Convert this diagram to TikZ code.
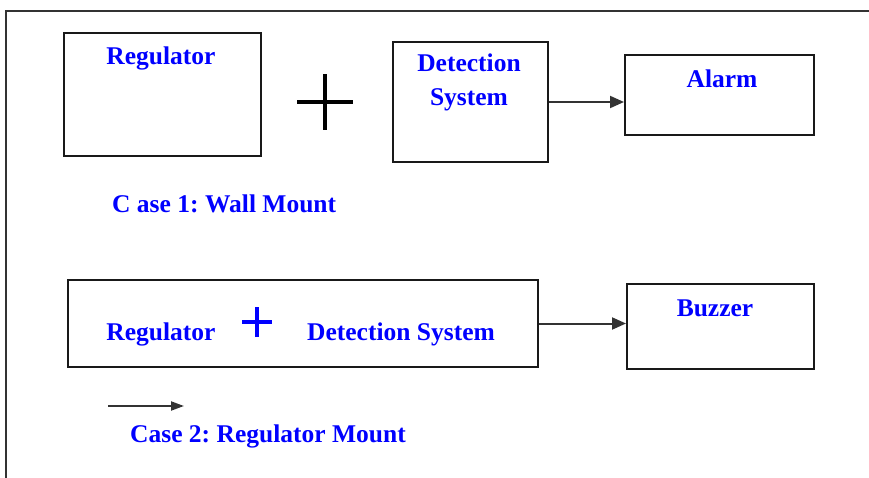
\documentclass[tikz,border=0pt]{standalone}
\usepackage{fontspec}
\setmainfont{Liberation Serif}
\usetikzlibrary{arrows.meta}
\begin{document}
\begin{tikzpicture}[x=1pt,y=-1pt,
  box/.style={draw=black!90,line width=2pt,inner sep=0pt,anchor=north west},
  lbl/.style={text=blue,font=\fontsize{25.5}{28}\selectfont\bfseries,inner sep=0pt,anchor=base},
  arr/.style={draw=black!80,line width=2pt,-{Triangle[length=14pt,width=12pt]}},
  plus/.style={line width=3.5pt}]
\useasboundingbox (0,0) rectangle (869,478);
% outer frame (top and left edges)
\coordinate (frameTL) at (6,11);
\draw[line width=2.5pt,black!80] (869,11) -- (frameTL) -- (6,478);

% case 1: wall mount
\node[box,minimum width=197pt,minimum height=123pt] (reg) at (63,32) {};
\node[box,minimum width=155pt,minimum height=120pt] (det) at (392,41) {};
\node[box,minimum width=189pt,minimum height=80pt] (alarm) at (624,54) {};
\node[lbl] (regtxt) at (161,65) {Regulator};
\node[lbl] (dettxt1) at (469,72) {Detection};
\node[lbl] (dettxt2) at (469,106) {System};
\node[lbl] (alarmtxt) at (722,88) {Alarm};
\coordinate (p1) at (325,102);
\draw[plus] ([xshift=-28pt]p1) -- ([xshift=28pt]p1);
\draw[plus] ([yshift=-28pt]p1) -- ([yshift=28pt]p1);
\draw[arr] (det.east) -- (det.east -| alarm.west);
\node[lbl,anchor=base west] (case1) at (112,213) {C ase 1:\hspace{-2pt} Wall Mount};

% case 2: regulator mount
\node[box,minimum width=470pt,minimum height=87pt] (big) at (67,279) {};
\node[box,minimum width=187pt,minimum height=85pt] (buzzer) at (626,283) {};
\node[lbl] (bigreg) at (161,340) {Regulator};
\node[lbl] (bigdet) at (401,340) {Detection System};
\node[lbl] (buzztxt) at (715,316) {Buzzer};
\coordinate (p2) at (257,322);
\draw[plus,blue] ([xshift=-15pt]p2) -- ([xshift=15pt]p2);
\draw[plus,blue] ([yshift=-15pt]p2) -- ([yshift=15pt]p2);
\draw[arr] (big.east) -- (big.east -| buzzer.west);

\coordinate (legA) at (108,406);
\coordinate (legB) at (184,406);
\draw[arr,-{Triangle[length=13pt,width=9pt]}] (legA) -- (legB);
\node[lbl,anchor=base west] (case2) at (130,442) {Case 2:\hspace{-2pt} Regulator Mount};
\end{tikzpicture}
\end{document}
